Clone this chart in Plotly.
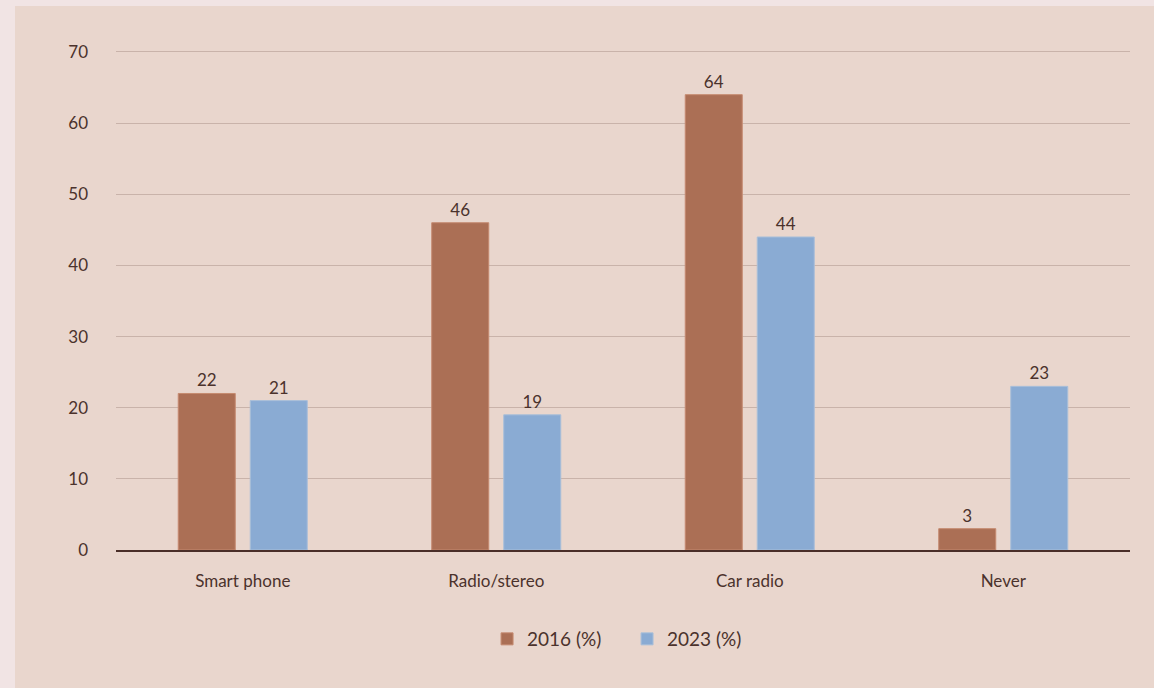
import plotly.graph_objects as go

categories = ["Smart phone", "Radio/stereo", "Car radio", "Never"]
values_2016 = [22, 46, 64, 3]
values_2023 = [21, 19, 44, 23]
series_names = ["2016 (%)", "2023 (%)"]
y_ticks = [0, 10, 20, 30, 40, 50, 60, 70]

TEXT = "#4b322c"
PANEL = "#e9d6cd"
OUTER = "#f1e4e4"
FONT = "Lato"

fig = go.Figure()
for name, vals, color, edge in [
    (series_names[0], values_2016, "#ab6f55", "#c58a70"),
    (series_names[1], values_2023, "#8aabd3", "#a9bfd9"),
]:
    fig.add_trace(go.Bar(
        x=categories, y=vals, name=name,
        marker=dict(color=color, line=dict(color=edge, width=1)),
        text=[str(v) for v in vals], textposition="outside",
        textfont=dict(color=TEXT, size=17, family=FONT),
        constraintext="none", cliponaxis=False,
    ))

# plot area in pixels: left 116, right 1130, top 50, bottom 550
PH = 500
fig.add_shape(type="rect", xref="paper", yref="paper",
              x0=(15 - 116) / 1014, x1=(1154 - 116) / 1014,
              y0=(550 - 690) / PH, y1=(550 - 6) / PH,
              fillcolor=PANEL, line=dict(width=0), layer="below")

fig.update_layout(
    width=1154, height=688,
    margin=dict(l=116, r=24, t=50, b=138),
    paper_bgcolor=OUTER, plot_bgcolor=PANEL,
    font=dict(family=FONT, color=TEXT, size=17),
    barmode="group", bargap=0.432, bargroupgap=0.208,
    showlegend=True,
    legend=dict(orientation="h", x=0.504, xanchor="center", y=-0.14, yanchor="top",
                font=dict(size=19, color=TEXT, family=FONT), itemwidth=30,
                entrywidth=95, bgcolor="rgba(0,0,0,0)"),
    xaxis=dict(showgrid=False, showline=True, linecolor="#4a2e28", linewidth=1.5,
               ticks="", tickfont=dict(size=17, color=TEXT), ticklabelstandoff=15),
    yaxis=dict(range=[0, 70.28], tickvals=y_ticks, showgrid=True, gridcolor="#c9b3aa",
               gridwidth=1, zeroline=False, showline=False, ticks="",
               tickfont=dict(size=17, color=TEXT), ticklabelstandoff=27),
)

fig.write_html("out.html")
